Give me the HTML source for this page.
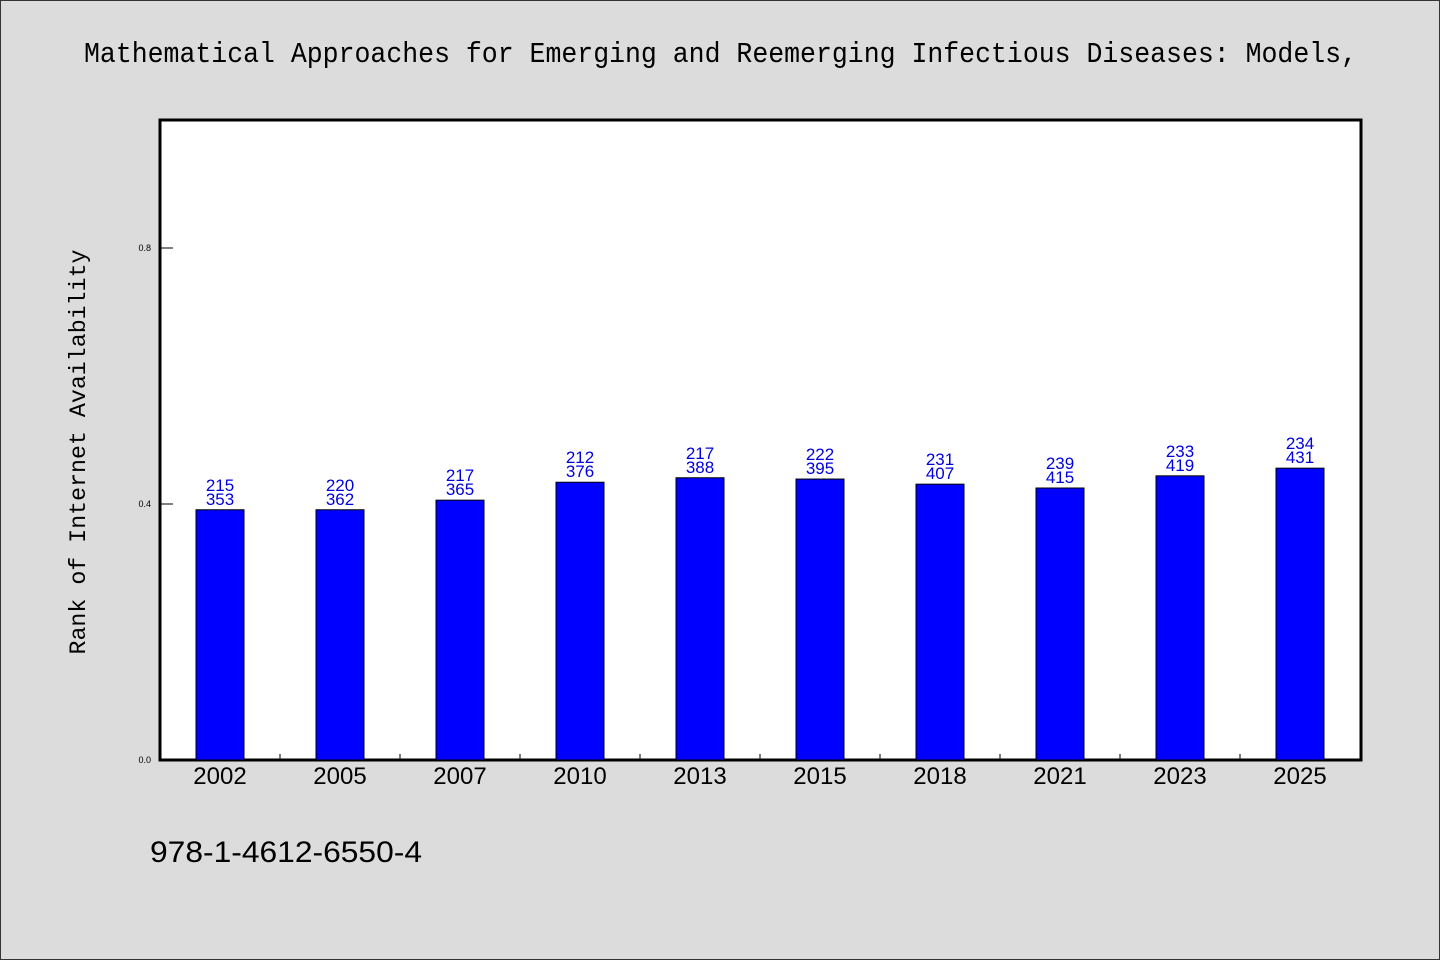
<!DOCTYPE html>
<html><head><meta charset="utf-8"><style>
html,body{margin:0;padding:0;background:#dcdcdc;}
svg{display:block;}
</style></head><body>
<svg id="chart" width="1440" height="960" xmlns="http://www.w3.org/2000/svg">
<rect x="0.5" y="0.5" width="1439" height="959" fill="#dcdcdc" stroke="#333" stroke-width="1"/>
<text x="84" y="62" font-family="'Liberation Mono','WenQuanYi Zen Hei',monospace" font-size="29" textLength="1273" lengthAdjust="spacingAndGlyphs">Mathematical Approaches for Emerging and Reemerging Infectious Diseases: Models,</text>
<rect x="160" y="120" width="1201" height="640" fill="#fff" stroke="#000" stroke-width="3"/>
<text transform="translate(85,452) rotate(-90)" text-anchor="middle" font-family="'Liberation Mono','WenQuanYi Zen Hei',monospace" font-size="23" textLength="405" lengthAdjust="spacingAndGlyphs">Rank of Internet Availability</text>
<g id="yaxis"></g>
<g id="xaxis"></g>
<g id="bars"></g>
<text x="150" y="862" font-family="'Liberation Sans',sans-serif" font-size="30" textLength="272" lengthAdjust="spacingAndGlyphs">978-1-4612-6550-4</text>
</svg>
<script>
const categories = ["2002","2005","2007","2010","2013","2015","2018","2021","2023","2025"];
const values = [0.391,0.391,0.406,0.434,0.441,0.439,0.431,0.425,0.444,0.456];
const labelTop = ["215","220","217","212","217","222","231","239","233","234"];
const labelBottom = ["353","362","365","376","388","395","407","415","419","431"];
const yTicks = [0.0,0.4,0.8];
const yTickLabels = ["0.0","0.4","0.8"];

const NS="http://www.w3.org/2000/svg";
const x0=160,x1=1360,y0=760,yTop=120;
const step=(x1-x0)/categories.length;
function xCenter(i){return x0+step*(i+0.5);}
function yScale(v){return y0-v*640;}
function mk(tag,attrs,parent){const e=document.createElementNS(NS,tag);for(const k in attrs)e.setAttribute(k,attrs[k]);parent.appendChild(e);return e;}
const gy=document.getElementById('yaxis'),gx=document.getElementById('xaxis'),gb=document.getElementById('bars');
yTicks.forEach((t,i)=>{
  const y=yScale(t);
  const l=mk('line',{x1:160,x2:173,y1:y,y2:y,stroke:'#000','stroke-width':1},gy);
  
  
  const tx=mk('text',{x:151,y:y+3,'text-anchor':'end','font-family':"'Liberation Sans',sans-serif",'font-size':9},gy);
  tx.textContent=yTickLabels[i];
  
  
});
categories.forEach((c,i)=>{
  if(i>0){
    const xt=x0+step*i;
    const l=mk('line',{x1:xt,x2:xt,y1:754,y2:760,stroke:'#000','stroke-width':1},gx);
    
    
  }
  const t=mk('text',{x:xCenter(i),y:784,'text-anchor':'middle','font-family':"'Liberation Sans',sans-serif",'font-size':24},gx);
  t.textContent=c;
  
  
  const yv=yScale(values[i]);
  const r=mk('rect',{x:xCenter(i)-24,y:yv,width:48,height:y0-yv,fill:'#0000ff',stroke:'#000','stroke-width':1},gb);
  
  
  const a=mk('text',{x:xCenter(i),y:yv-19,'text-anchor':'middle','font-family':"'Liberation Sans',sans-serif",'font-size':17,fill:'#0000dd'},gb);
  a.textContent=labelTop[i];
  
  
  const b=mk('text',{x:xCenter(i),y:yv-5,'text-anchor':'middle','font-family':"'Liberation Sans',sans-serif",'font-size':17,fill:'#0000dd'},gb);
  b.textContent=labelBottom[i];
  
  
});
</script>
</body></html>
